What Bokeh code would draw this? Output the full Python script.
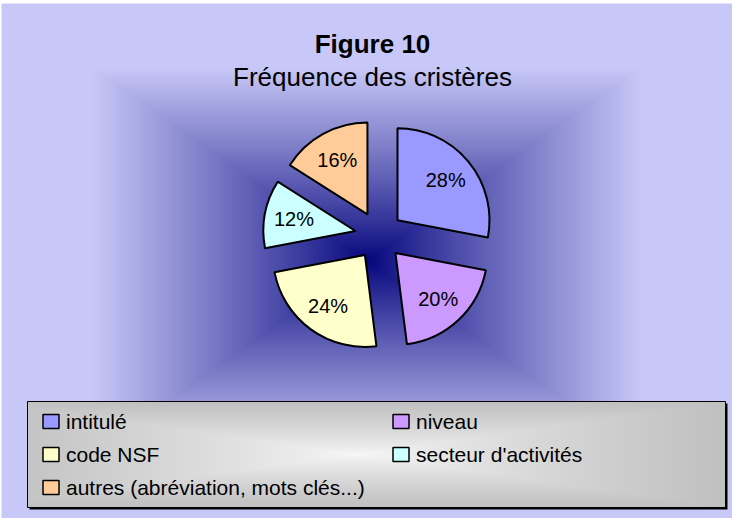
import numpy as np
from bokeh.plotting import figure
from bokeh.models import Range1d
from bokeh.core.properties import value
from bokeh.embed import file_html
from bokeh.resources import INLINE

# ---- data ----
categories = ["intitulé", "niveau", "code NSF", "secteur d'activités", "autres (abréviation, mots clés...)"]
shares = [28, 20, 24, 12, 16]
labels = ["28%", "20%", "24%", "12%", "16%"]
colors = ["#9999ff", "#cc99ff", "#ffffcc", "#ccffff", "#ffcc99"]

W, H = 732, 518
FONT = "Liberation Sans"

p = figure(width=W, height=H, output_backend="svg", toolbar_location=None,
           x_range=Range1d(0, W), y_range=Range1d(0, H), min_border=0)
p.axis.visible = False
p.grid.visible = False
p.outline_line_color = None
p.background_fill_color = "white"
p.border_fill_color = "white"

def sx(x):  # screen x -> data x
    return x - 8

def sy(y):  # screen y -> data y
    return 526 - y

# ---- background rectangular gradient ----
bx0, bx1, by0, by1 = 9, 740, 11, 526
bw, bh = bx1 - bx0, by1 - by0
xs = np.arange(bw) + 0.5
ys = np.arange(bh) + 0.5
X, Y = np.meshgrid(xs, ys)
t = np.maximum(np.abs(X - bw / 2) / (bw / 2), np.abs(Y - bh / 2) / (bh / 2))
f = np.clip(t / 0.75, 0, 1) ** 0.9
dark = np.array([5, 5, 125], float)
light = np.array([200, 200, 248], float)
rgb = dark[None, None, :] + f[..., None] * (light - dark)[None, None, :]
img = np.zeros((bh, bw), dtype=np.uint32)
v = img.view(dtype=np.uint8).reshape((bh, bw, 4))
v[..., 0] = rgb[..., 0]
v[..., 1] = rgb[..., 1]
v[..., 2] = rgb[..., 2]
v[..., 3] = 255
p.image_rgba(image=[img[::-1]], x=sx(bx0), y=sy(by1), dw=bw, dh=bh)

# ---- title ----
p.text(x=[sx(380)], y=[sy(51)], text=["Figure 10"], text_font=value(FONT),
       text_font_style="bold", text_font_size="26px", text_align="center",
       text_baseline="alphabetic", text_color="black")
p.text(x=[sx(380)], y=[sy(84)], text=["Fréquence des cristères"], text_font=value(FONT),
       text_font_size="26px", text_align="center", text_baseline="alphabetic",
       text_color="black")

# ---- exploded pie ----
cx, cy, r, expl = sx(386.5), sy(243), 92, 24
vals = np.array(shares, float)
fr = vals / vals.sum()
ends = np.pi / 2 - np.concatenate([[0], np.cumsum(fr)[:-1]]) * 2 * np.pi
starts = ends - fr * 2 * np.pi
mids = (starts + ends) / 2
wx = cx + expl * np.cos(mids)
wy = cy + expl * np.sin(mids)
p.wedge(x=wx, y=wy, radius=r, start_angle=starts, end_angle=ends,
        direction="anticlock", fill_color=colors, line_color="black", line_width=2)
lx = wx + 0.68 * r * np.cos(mids)
ly = wy + 0.68 * r * np.sin(mids)
p.text(x=lx, y=ly, text=labels, text_font=value(FONT), text_font_size="20px",
       text_align="center", text_baseline="middle", text_color="black")

# ---- legend box with grey gradient ----
lx0, lx1, ly0, ly1 = 35, 733, 409, 515
lw, lh = lx1 - lx0, ly1 - ly0
p.quad(left=[sx(lx0 + 2)], right=[sx(lx1 + 2)], bottom=[sy(ly1 + 2)], top=[sy(ly0 + 2)],
       fill_color="black", line_color=None)
xs = np.arange(lw) + 0.5
ys = np.arange(lh) + 0.5
X, Y = np.meshgrid(xs, ys)
t = np.maximum(np.abs(X - lw * 0.47) / (lw * 0.53), np.abs(Y - lh / 2) / (lh / 2))
f = np.clip(t, 0, 1) ** 0.8
g = 248 - f * 56
img2 = np.zeros((lh, lw), dtype=np.uint32)
v2 = img2.view(dtype=np.uint8).reshape((lh, lw, 4))
v2[..., 0] = g
v2[..., 1] = g
v2[..., 2] = g
v2[..., 3] = 255
p.image_rgba(image=[img2[::-1]], x=sx(lx0), y=sy(ly1), dw=lw, dh=lh)
p.quad(left=[sx(lx0)], right=[sx(lx1)], bottom=[sy(ly1)], top=[sy(ly0)],
       fill_color=None, line_color="black", line_width=1)

col_x = [58.5, 408.5]
row_y = [429, 462, 495]
mx, my, tx = [], [], []
for i in range(len(categories)):
    c, rr = i % 2, i // 2
    mx.append(sx(col_x[c]))
    my.append(sy(row_y[rr]))
    tx.append(sx(col_x[c] + 15))
p.rect(x=mx, y=my, width=16, height=14, width_units="screen", height_units="screen",
       fill_color=colors, line_color="black", line_width=1.5)
p.text(x=tx, y=my, text=categories, text_font=value(FONT), text_font_size="21px",
       text_align="left", text_baseline="middle", text_color="black")

open("out.html", "w").write(file_html(p, INLINE))
